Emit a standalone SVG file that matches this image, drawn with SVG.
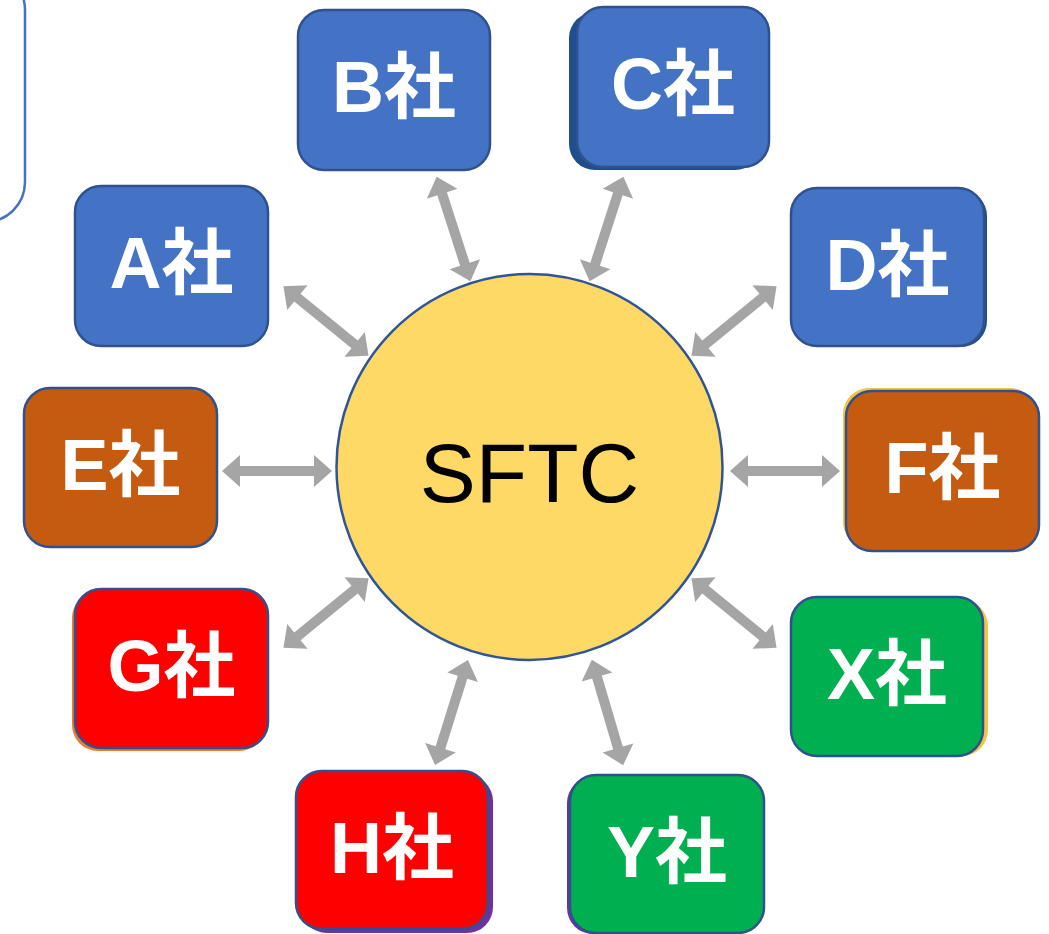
<svg xmlns="http://www.w3.org/2000/svg" xmlns:xlink="http://www.w3.org/1999/xlink" width="1049" height="934" viewBox="0 0 1049 934">
  <style>
    .box { stroke: #2F528F; stroke-width: 2.5; }
    .blue { fill: #4472C4; }
    .brown { fill: #C55A11; }
    .red { fill: #FF0000; }
    .green { fill: #00B050; }
    .label { font-family: "Liberation Sans", "Noto Sans CJK JP", sans-serif; font-weight: 700; font-size: 72px; fill: #FFFFFF; text-anchor: middle; }
    .hub { font-family: "Liberation Sans", "Noto Sans CJK JP", sans-serif; font-size: 84px; fill: #000000; text-anchor: middle; }
    .arrow { fill: #A5A5A5; }
  </style>
  <defs>
    <!-- double-headed arrow, 110 long, centred on the origin -->
    <path id="dbl" d="M-55,0 L-37,-16 L-37,-5 L37,-5 L37,-16 L55,0 L37,16 L37,5 L-37,5 L-37,16 Z"/>
  </defs>
  <rect width="1049" height="934" fill="#FFFFFF"/>

  <!-- frame edge at the upper left -->
  <rect x="-220" y="-30" width="245" height="252" rx="40" fill="none" stroke="#4472C4" stroke-width="2.5"/>

  <!-- connectors -->
  <g id="connectors" class="arrow">
    <use xlink:href="#dbl" transform="translate(326,321) rotate(39.3)"/>
    <use xlink:href="#dbl" transform="translate(453.5,229) rotate(72.1)"/>
    <use xlink:href="#dbl" transform="translate(606.5,229) rotate(-72.1)"/>
    <use xlink:href="#dbl" transform="translate(734,321) rotate(-39.3)"/>
    <use xlink:href="#dbl" transform="translate(277,471)"/>
    <use xlink:href="#dbl" transform="translate(785,471)"/>
    <use xlink:href="#dbl" transform="translate(326,613) rotate(-39.3)"/>
    <use xlink:href="#dbl" transform="translate(734,613) rotate(39.3)"/>
    <use xlink:href="#dbl" transform="translate(451.5,712.5) rotate(-72.6)"/>
    <use xlink:href="#dbl" transform="translate(607.5,712.5) rotate(73.5)"/>
  </g>

  <!-- hub -->
  <g id="node-sftc">
    <circle cx="529.5" cy="467" r="193" fill="#FFD966" stroke="#2F5597" stroke-width="2.5"/>
    <text class="hub" x="529.5" y="502">SFTC</text>
  </g>

  <g id="node-a">
    <rect class="box blue" x="75" y="186" width="193" height="160" rx="26"/>
    <text class="label" x="171.5" y="288">A社</text>
  </g>

  <g id="node-b">
    <rect class="box blue" x="298" y="10" width="192" height="160" rx="26"/>
    <text class="label" x="394" y="112">B社</text>
  </g>

  <g id="node-c">
    <rect x="569" y="12" width="192" height="158" rx="26" fill="#1F4E8C"/>
    <rect class="box blue" x="577" y="7" width="192" height="160" rx="26"/>
    <text class="label" x="673" y="109">C社</text>
  </g>

  <g id="node-d">
    <rect x="795" y="190" width="192" height="157" rx="26" fill="#1F4E8C"/>
    <rect class="box blue" x="791" y="188" width="193" height="158" rx="26"/>
    <text class="label" x="887.5" y="290">D社</text>
  </g>

  <g id="node-e">
    <rect class="box brown" x="24" y="388" width="193" height="159" rx="26"/>
    <text class="label" x="120.5" y="490">E社</text>
  </g>

  <g id="node-f">
    <rect x="843" y="388" width="193" height="160" rx="26" fill="#F2C447"/>
    <rect class="box brown" x="846" y="391" width="193" height="160" rx="26"/>
    <text class="label" x="942.5" y="493">F社</text>
  </g>

  <g id="node-g">
    <rect x="72" y="592" width="193" height="159" rx="26" fill="#ED7D31"/>
    <rect class="box red" x="75" y="589" width="193" height="159" rx="26"/>
    <text class="label" x="171.5" y="691">G社</text>
  </g>

  <g id="node-x">
    <rect x="796" y="600" width="192" height="156" rx="26" fill="#F2C447"/>
    <rect class="box green" x="791" y="597" width="192" height="159" rx="26"/>
    <text class="label" x="887" y="699">X社</text>
  </g>

  <g id="node-h">
    <rect x="301" y="775" width="192" height="158" rx="26" fill="#7030A0"/>
    <rect class="box red" x="296" y="771" width="192" height="158" rx="26"/>
    <text class="label" x="392" y="873">H社</text>
  </g>

  <g id="node-y">
    <rect x="567" y="777" width="194" height="157" rx="26" fill="#7030A0"/>
    <rect class="box green" x="570" y="775" width="194" height="158" rx="26"/>
    <text class="label" x="667" y="877">Y社</text>
  </g>
</svg>
